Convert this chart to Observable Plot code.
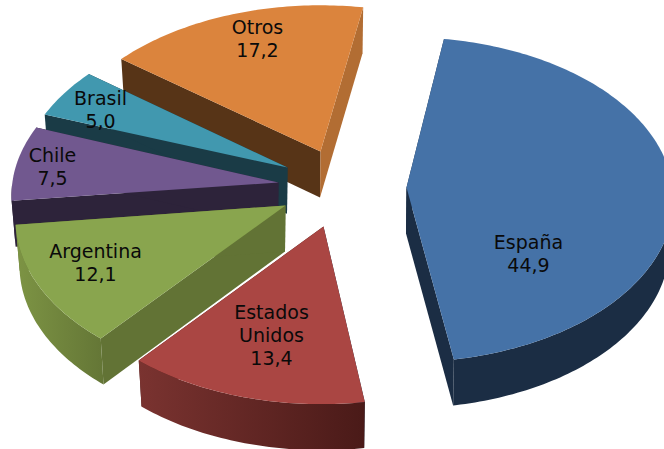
<!DOCTYPE html>
<html>
<head>
<meta charset="utf-8">
<style>html,body{margin:0;padding:0;background:#fff;overflow:hidden}</style>
<script src="https://cdn.jsdelivr.net/npm/d3@7"></script>
<script src="https://cdn.jsdelivr.net/npm/@observablehq/plot@0.6"></script>
</head>
<body>
<script>
// Data
const categories = ["España", "Estados Unidos", "Argentina", "Chile", "Brasil", "Otros"];
const values = [44.9, 13.4, 12.1, 7.5, 5.0, 17.2];
const labelLines = [["España"], ["Estados", "Unidos"], ["Argentina"], ["Chile"], ["Brasil"], ["Otros"]];

// Colours
const topColors = ["#4572a7", "#aa4643", "#89a54e", "#71588f", "#4198af", "#db843d"];
const startWallColors = ["#1b2d44", "#1b2d44", "#627335", "#2d233a", "#1a3b46", "#573417"];
const endWallColors = ["#1b2d44", "#4a1a18", "#627335", "#2d233a", "#1a3b46", "#b26d33"];
const arcWallStops = [
  ["#1b2d44", "#1b2d44"], ["#7a3330", "#4a1a18"], ["#7d9444", "#647636"],
  ["#2d233a", "#2d233a"], ["#1a3b46", "#1a3b46"], ["#573417", "#573417"]
];

// 3-D layout of the pie
const startAngle = 10, depth = 46, lowerScale = 0.985;
const center = [330, 186];
const explodeX = [76, -7, -45, -52, -43, -10];
const explodeY = [1, 40, 19, -4, -19, -35];
const rimTurn = [-1, 0, 0, 0, 0, 0];
const rimShiftX = [-1, -2, -2, 1, 0.5, 0];
const rimShiftY = [-4, -1, -2, -3, -1, 0];
const labelDX = [122, -52, -190, -226, -187, -63];
const labelDY = [66, 108, 57, -16, -58, -113];
const lineStep = 23;

const rad = Math.PI / 180;
// perspective projection of a point on the unit rim at angle t (clockwise from the back)
function rim(t) {
  const u = Math.sin(t * rad), v = Math.cos(t * rad), w = 1 + 0.0875 * v;
  return [267 * u / w, (2 - 161 * v) / w];
}

const total = d3.sum(values);
let acc = startAngle;
const slices = values.map((v, i) => {
  const t0 = acc, t1 = acc + v / total * 360;
  acc = t1;
  const ax = center[0] + explodeX[i], ay = center[1] + explodeY[i];
  const at = t => {
    const [dx, dy] = rim(t + rimTurn[i]);
    return {dx: dx + rimShiftX[i], dy: dy + rimShiftY[i], t};
  };
  const arc = d3.range(t0, t1, 1).concat([t1]).map(at);
  const apex = {x: ax, y: ay};
  const upper = p => ({x: ax + p.dx, y: ay + p.dy});
  const lower = p => ({x: ax + p.dx * lowerScale, y: ay + p.dy + depth});
  const apexLow = {x: ax - 0.5, y: ay + depth};
  const first = arc[0], last = arc[arc.length - 1];
  // only the part of the rim that faces the viewer has a visible wall
  const front = arc.filter(p => p.t >= 90 && p.t <= 270);
  return {
    i,
    top: [apex, ...arc.map(upper)],
    arcWall: [...front.map(upper), ...front.slice().reverse().map(lower)],
    startWall: [apex, upper(first), lower(first), apexLow],
    endWall: [apex, upper(last), lower(last), apexLow],
    label: labelLines[i].concat(values[i].toFixed(1).replace(".", ",")).join("\n"),
    lx: ax + labelDX[i],
    ly: ay + labelDY[i]
  };
});

const defs = () => {
  const d = d3.create("svg:defs");
  arcWallStops.forEach((s, i) => {
    const g = d.append("svg:linearGradient").attr("id", "arc" + i)
      .attr("x1", 0).attr("x2", 1).attr("y1", 0).attr("y2", 0);
    g.append("svg:stop").attr("offset", 0).attr("stop-color", s[0]);
    g.append("svg:stop").attr("offset", 1).attr("stop-color", s[1]);
  });
  return d.node();
};

const face = (pts, fill) => Plot.line(pts, {x: "x", y: "y", fill, stroke: "none", curve: "linear"});

// back-to-front painting order
const order = [0, 5, 4, 3, 2, 1];
const marks = [defs];
for (const i of order) {
  const s = slices[i];
  marks.push(
    face(s.startWall, startWallColors[i]),
    face(s.endWall, endWallColors[i]),
    face(s.arcWall, `url(#arc${i})`),
    face(s.top, topColors[i])
  );
}
marks.push(Plot.text(slices, {
  x: "lx", y: "ly", text: "label",
  fontFamily: "DejaVu Sans", fontSize: 19, lineHeight: lineStep / 19,
  fill: "#0a0a0a", textAnchor: "middle", lineAnchor: "middle"
}));

document.body.append(Plot.plot({
  width: 664, height: 449,
  margin: 0,
  x: {domain: [0, 664], range: [0, 664], axis: null},
  y: {domain: [0, 449], range: [0, 449], axis: null},
  style: {background: "#fff"},
  marks
}));
</script>
</body>
</html>
